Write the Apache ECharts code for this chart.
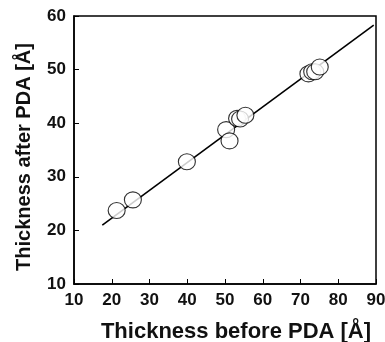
<!DOCTYPE html>
<html>
<head>
<meta charset="utf-8">
<script src="https://cdn.jsdelivr.net/npm/echarts@6/dist/echarts.min.js"></script>
<style>html,body{margin:0;padding:0;background:#fff;}#c{width:385px;height:342px;}</style>
</head>
<body>
<div id="c"></div>
<script>
var xTicks = [10, 20, 30, 40, 50, 60, 70, 80, 90];
var yTicks = [10, 20, 30, 40, 50, 60];
var before = [21.3, 25.6, 39.9, 50.3, 51.2, 53.2, 54.0, 55.4, 72.1, 73.1, 73.9, 75.1];
var after  = [23.7, 25.7, 32.8, 38.8, 36.7, 40.9, 40.8, 41.5, 49.2, 49.6, 49.6, 50.5];
var fitX = [17.5, 89.4];
var fitY = [21.0, 58.3];

var pts = before.map(function (v, i) { return [v, after[i]]; });
var fit = fitX.map(function (v, i) { return [v, fitY[i]]; });

var font = '"Liberation Sans", Arial, Helvetica, sans-serif';
var chart = echarts.init(document.getElementById('c'), null, {renderer: 'canvas'});
chart.setOption({
  animation: false,
  grid: {left: 74, right: 9, top: 16, bottom: 58, containLabel: false, outerBoundsMode: 'none',
         show: true, borderColor: '#000', borderWidth: 1.5, backgroundColor: 'transparent'},
  xAxis: {
    type: 'value', min: xTicks[0], max: xTicks[xTicks.length - 1], interval: 10,
    name: 'Thickness before PDA [Å]', nameLocation: 'middle', nameGap: 37,
    nameTextStyle: {fontFamily: font, fontWeight: 'bold', fontSize: 22, color: '#111', padding: [0, 0, 0, 22]},
    axisLine: {lineStyle: {color: '#000', width: 1.5}},
    axisTick: {inside: true, length: 5, lineStyle: {color: '#000', width: 1}},
    axisLabel: {margin: 8, fontFamily: font, fontWeight: 'bold', fontSize: 17, color: '#111'},
    splitLine: {show: false}
  },
  yAxis: {
    type: 'value', min: yTicks[0], max: yTicks[yTicks.length - 1], interval: 10,
    name: 'Thickness after PDA [Å]', nameLocation: 'middle', nameGap: 40,
    nameTextStyle: {fontFamily: font, fontWeight: 'bold', fontSize: 20, color: '#111', padding: [0, 14, 0, 0]},
    axisLine: {lineStyle: {color: '#000', width: 1.5}},
    axisTick: {inside: true, length: 5, lineStyle: {color: '#000', width: 1}},
    axisLabel: {margin: 8, fontFamily: font, fontWeight: 'bold', fontSize: 17, color: '#111'},
    splitLine: {show: false}
  },
  series: [
    {type: 'line', data: fit, symbol: 'none', lineStyle: {color: '#000', width: 1.6}, z: 2},
    {type: 'scatter', data: pts, symbol: 'circle', symbolSize: [17, 16],
     itemStyle: {color: '#fff', borderColor: '#000', borderWidth: 1.1}, z: 3}
  ]
});
</script>
</body>
</html>
